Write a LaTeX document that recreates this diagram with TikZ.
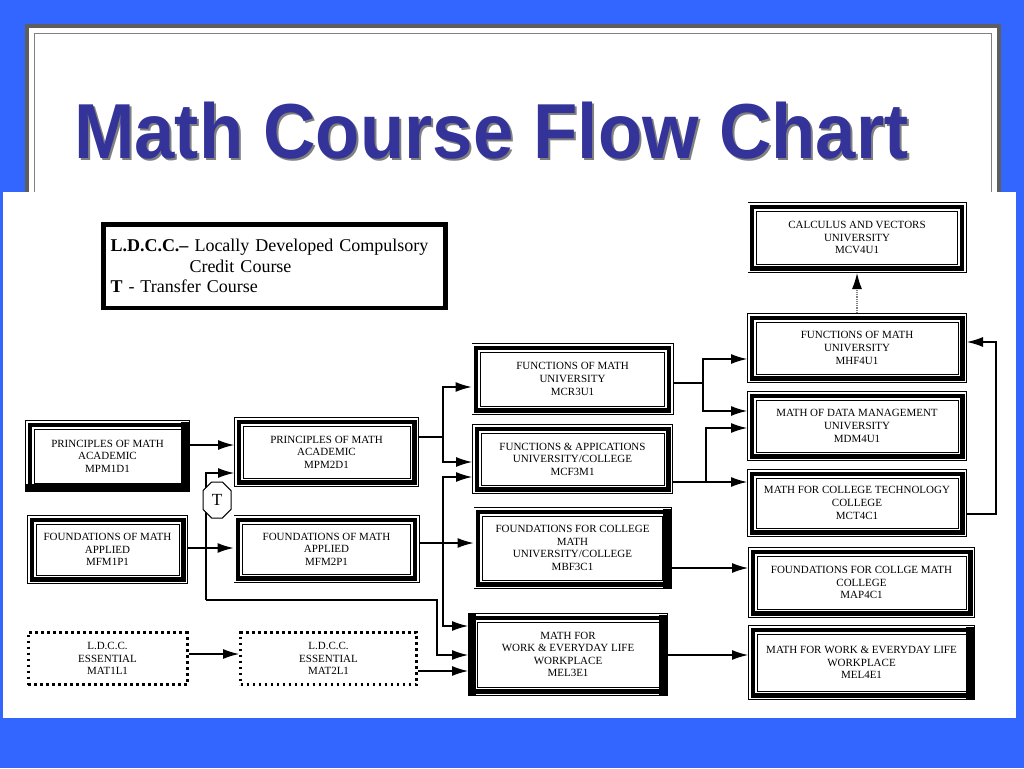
\documentclass[tikz,border=0pt]{standalone}
\usepackage{fontspec}
\setmainfont{Liberation Serif}
\newfontfamily\titlefont{Liberation Sans}
\usepackage{tikz}
\usetikzlibrary{arrows.meta}
\usetikzlibrary{shapes.misc}
\definecolor{slideblue}{HTML}{3366FF}
\definecolor{titleblue}{HTML}{333399}
\definecolor{framegray}{HTML}{5E5E5E}

\begin{document}
\begin{tikzpicture}[x=1pt,y=-1pt]
  \tikzset{
    course/.style={draw, fill=white, line width=1pt, inner sep=0pt, outer sep=9pt, align=center,
      font=\fontsize{11}{12.6}\selectfont,
      preaction={draw, line width=18pt},
      preaction={draw=white, line width=16.6pt},
      preaction={draw, line width=13pt},
      preaction={draw=white, line width=4.4pt}},
    ldcc/.style={draw, fill=white, line width=3pt, dash pattern=on 2.7pt off 3.3pt, inner sep=0pt, outer sep=1.5pt, align=center, font=\fontsize{11}{12.6}\selectfont},
    key/.style={draw, fill=white, line width=4.5pt, minimum width=342pt, minimum height=83.5pt, text width=328pt, inner xsep=7pt, align=left, font=\fontsize{18}{20.5}\selectfont},
    transfer/.style={draw, fill=white, chamfered rectangle, chamfered rectangle xsep=8pt, minimum width=28pt, minimum height=36pt, inner sep=0pt, line width=1pt, font=\fontsize{17}{17}\selectfont},
    line/.style={draw, line width=1.2pt, -{Latex[length=16pt,width=10pt]}},
  }
  \useasboundingbox (0,0) rectangle (1024,768);
  % slide
  \fill[slideblue] (0,0) rectangle (1024,768);
  \fill[white] (25,24) rectangle (1001,200);
  \draw[framegray, line width=4pt] (27,26) rectangle (999,220);
  \draw[gray, line width=0.8pt] (34,33) rectangle (991,220);
  \node[anchor=base west, inner sep=0pt, text=black!50] at (76,160) {\titlefont\fontsize{78}{80}\selectfont\bfseries\scalebox{0.93}[1]{Math Course Flow Chart}};
  \node[anchor=base west, inner sep=0pt, text=titleblue] (title) at (74,158) {\titlefont\fontsize{78}{80}\selectfont\bfseries\scalebox{0.93}[1]{Math Course Flow Chart}};
  \fill[white] (3,192) rectangle (1016,718);

  \node[key] (key) at (274.5,266) {\textbf{L.D.C.C.–} Locally Developed Compulsory\\\hspace*{79pt}Credit Course\\\textbf{T} - Transfer Course};

  % grade 9
  \node[course, minimum width=147pt, minimum height=54pt] (mpm1) at (107.5,456) {PRINCIPLES OF MATH\\ACADEMIC\\MPM1D1};
  \node[course, minimum width=143pt, minimum height=51pt, below of=mpm1, node distance=93.5pt] (mfm1) {FOUNDATIONS OF MATH\\APPLIED\\MFM1P1};
  \node[ldcc, minimum width=159pt, minimum height=52pt, below of=mfm1, node distance=109pt] (mat1) {L.D.C.C.\\ESSENTIAL\\MAT1L1};
  % grade 10
  \node[course, minimum width=167pt, minimum height=52pt] (mpm2) at (326.5,452) {PRINCIPLES OF MATH\\ACADEMIC\\MPM2D1};
  \node[course, minimum width=168pt, minimum height=50pt, below of=mpm2, node distance=97pt] (mfm2) {FOUNDATIONS OF MATH\\APPLIED\\MFM2P1};
  \node[ldcc, minimum width=176pt, minimum height=52pt, below of=mfm2, node distance=109.5pt, xshift=2pt] (mat2) {L.D.C.C.\\ESSENTIAL\\MAT2L1};
  % grade 11
  \node[course, minimum width=184pt, minimum height=54pt] (mcr3) at (572.5,379) {FUNCTIONS OF MATH\\UNIVERSITY\\MCR3U1};
  \node[course, minimum width=183pt, minimum height=52pt, below of=mcr3, node distance=80pt] (mcf3) {FUNCTIONS \& APPICATIONS\\UNIVERSITY/COLLEGE\\MCF3M1};
  \node[course, minimum width=180pt, minimum height=64pt, below of=mcf3, node distance=89pt] (mbf3) {FOUNDATIONS FOR COLLEGE\\MATH\\UNIVERSITY/COLLEGE\\MBF3C1};
  \node[course, minimum width=182pt, minimum height=65pt, below of=mbf3, node distance=106.5pt, xshift=-4.5pt] (mel3) {MATH FOR\\WORK \& EVERYDAY LIFE\\WORKPLACE\\MEL3E1};
  % grade 12
  \node[course, minimum width=201pt, minimum height=53pt] (mcv4) at (857,237.5) {CALCULUS AND VECTORS\\UNIVERSITY\\MCV4U1};
  \node[course, minimum width=202pt, minimum height=52pt, below of=mcv4, node distance=110.5pt] (mhf4) {FUNCTIONS OF MATH\\UNIVERSITY\\MHF4U1};
  \node[course, minimum width=202pt, minimum height=52pt, below of=mhf4, node distance=78pt] (mdm4) {MATH OF DATA MANAGEMENT\\UNIVERSITY\\MDM4U1};
  \node[course, minimum width=202pt, minimum height=50pt, below of=mdm4, node distance=77pt] (mct4) {MATH FOR COLLEGE TECHNOLOGY\\COLLEGE\\MCT4C1};
  \node[course, minimum width=209pt, minimum height=53pt] (map4) at (861.5,582.5) {FOUNDATIONS FOR COLLGE MATH\\COLLEGE\\MAP4C1};
  \node[course, minimum width=209pt, minimum height=57pt, below of=map4, node distance=80pt] (mel4) {MATH FOR WORK \& EVERYDAY LIFE\\WORKPLACE\\MEL4E1};

  % heavier sides
  \foreach \n in {mpm1,mbf3,mel3,mel4}
    \fill ([xshift=-1pt,yshift=-2pt]\n.north east) rectangle ([xshift=-9pt,yshift=1pt]\n.south east);
  \fill ([xshift=1pt,yshift=-1pt]mel3.north west) rectangle ([xshift=8pt,yshift=1pt]mel3.south west);
  \fill ([xshift=1pt,yshift=1pt]mpm1.south west) rectangle ([xshift=-1pt,yshift=8pt]mpm1.south east);

  \coordinate (tup) at (206,473);
  \coordinate (tdn) at (206,600);
  \coordinate (tx) at (437,655);
  \coordinate (j1) at (443,437);
  \coordinate (j2) at (443,543);
  \coordinate (j3) at (703,383);
  \coordinate (j4) at (706,482);
  \coordinate (rt) at (996,342);

  \path [line] (mpm1.east |- 0,445) -- (mpm2.west |- 0,445);
  \path [line] (mfm1.east |- 0,548) -- (mfm2.west |- 0,548);
  \path [line] (mat1.east |- 0,654) -- (mat2.west |- 0,654);
  \path [line] (mat2.east |- 0,671) -- (mel3.west |- 0,671);
  \path [line] (tdn) -- (tup) -- (mpm2.west |- tup);
  \path [line] (tdn) -| (tx) -- (mel3.west |- tx);

  \draw [line width=1.2pt] (mpm2.east |- j1) -- (j1);
  \path [line] (j1) |- (mcr3.west |- 0,387);
  \path [line] (j1) |- (mcf3.west |- 0,462);
  \path [line] (mfm2.east |- j2) -- (mbf3.west |- j2);
  \path [line] (j2) |- (mcf3.west |- 0,477);
  \path [line] (j2) |- (mel3.west |- 0,626);

  \draw [line width=1.2pt] (mcr3.east |- j3) -- (j3);
  \path [line] (j3) |- (mhf4.west |- 0,359);
  \path [line] (j3) |- (mdm4.west |- 0,411);
  \path [line] (mcf3.east |- j4) -- (mct4.west |- j4);
  \path [line] (j4) |- (mdm4.west |- 0,428);
  \path [line] (mbf3.east |- 0,568) -- (map4.west |- 0,568);
  \path [line] (mel3.east |- 0,655) -- (mel4.west |- 0,655);
  \path [line] (mct4.east |- 0,514) -| (rt) -- (mhf4.east |- rt);
  \path [line, draw=gray, densely dotted, -{Latex[length=16pt,width=10pt,color=black]}] (mhf4.north) -- (mcv4.south);

  \node[transfer] (tc) at (217,500) {T};
\end{tikzpicture}
\end{document}
